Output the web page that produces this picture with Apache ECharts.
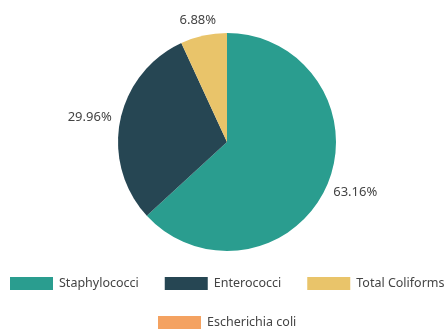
<!DOCTYPE html>
<html>
<head>
<meta charset="utf-8">
<script src="https://cdn.jsdelivr.net/npm/echarts@6/dist/echarts.min.js"></script>
<style>
  html, body { margin: 0; padding: 0; background: #fff; }
  #chart { width: 444px; height: 329px; }
</style>
</head>
<body>
<div id="chart"></div>
<script>
const categories = ['Staphylococci', 'Enterococci', 'Total Coliforms', 'Escherichia coli']
const values = [63.16, 29.96, 6.88, 0]
const colors = ['#2a9d8f', '#264653', '#e9c46a', '#f4a261']

const chart = echarts.init(document.getElementById('chart'))

const font = 'Noto Sans, sans-serif'

const pieData = categories.map((name, i) => ({
  name,
  value: values[i],
  itemStyle: { color: colors[i] },
  label: { show: values[i] > 0 }
}))

const legendStyle = {
  orient: 'horizontal',
  padding: 0,
  itemWidth: 43,
  itemHeight: 13,
  itemGap: 26,
  icon: 'rect',
  textStyle: { color: '#444', fontSize: 12.5, fontFamily: font, padding: [0, 0, 0, 1] }
}

// put the label box just outside the slice, centred on its mid ray
const placeLabel = (params) => {
  const pts = params.labelLinePoints
  if (!pts) return {}
  const [p0, p1] = pts
  let dx = p1[0] - p0[0]
  let dy = p1[1] - p0[1]
  const len = Math.sqrt(dx * dx + dy * dy) || 1
  dx /= len
  dy /= len
  const gap = 9
  const w = params.labelRect.width
  const h = params.labelRect.height
  return {
    x: p0[0] + dx * (gap + w / 2),
    y: p0[1] + dy * (gap + h / 2),
    align: 'center',
    verticalAlign: 'middle'
  }
}

chart.setOption({
  animation: false,
  color: colors,
  legend: [
    { ...legendStyle, left: 10, top: 277, width: 480, data: categories.slice(0, 3) },
    { ...legendStyle, left: 158, top: 316, data: categories.slice(3) }
  ],
  series: [{
    type: 'pie',
    center: [227, 142],
    radius: 109,
    startAngle: 90,
    clockwise: true,
    data: pieData,
    label: {
      show: true,
      position: 'outside',
      formatter: (p) => p.value.toFixed(2) + '%',
      color: '#444',
      fontSize: 13,
      fontFamily: font
    },
    labelLine: { show: true, length: 10, length2: 0, lineStyle: { opacity: 0 } },
    labelLayout: placeLabel,
    emphasis: { disabled: true }
  }]
})
</script>
</body>
</html>
